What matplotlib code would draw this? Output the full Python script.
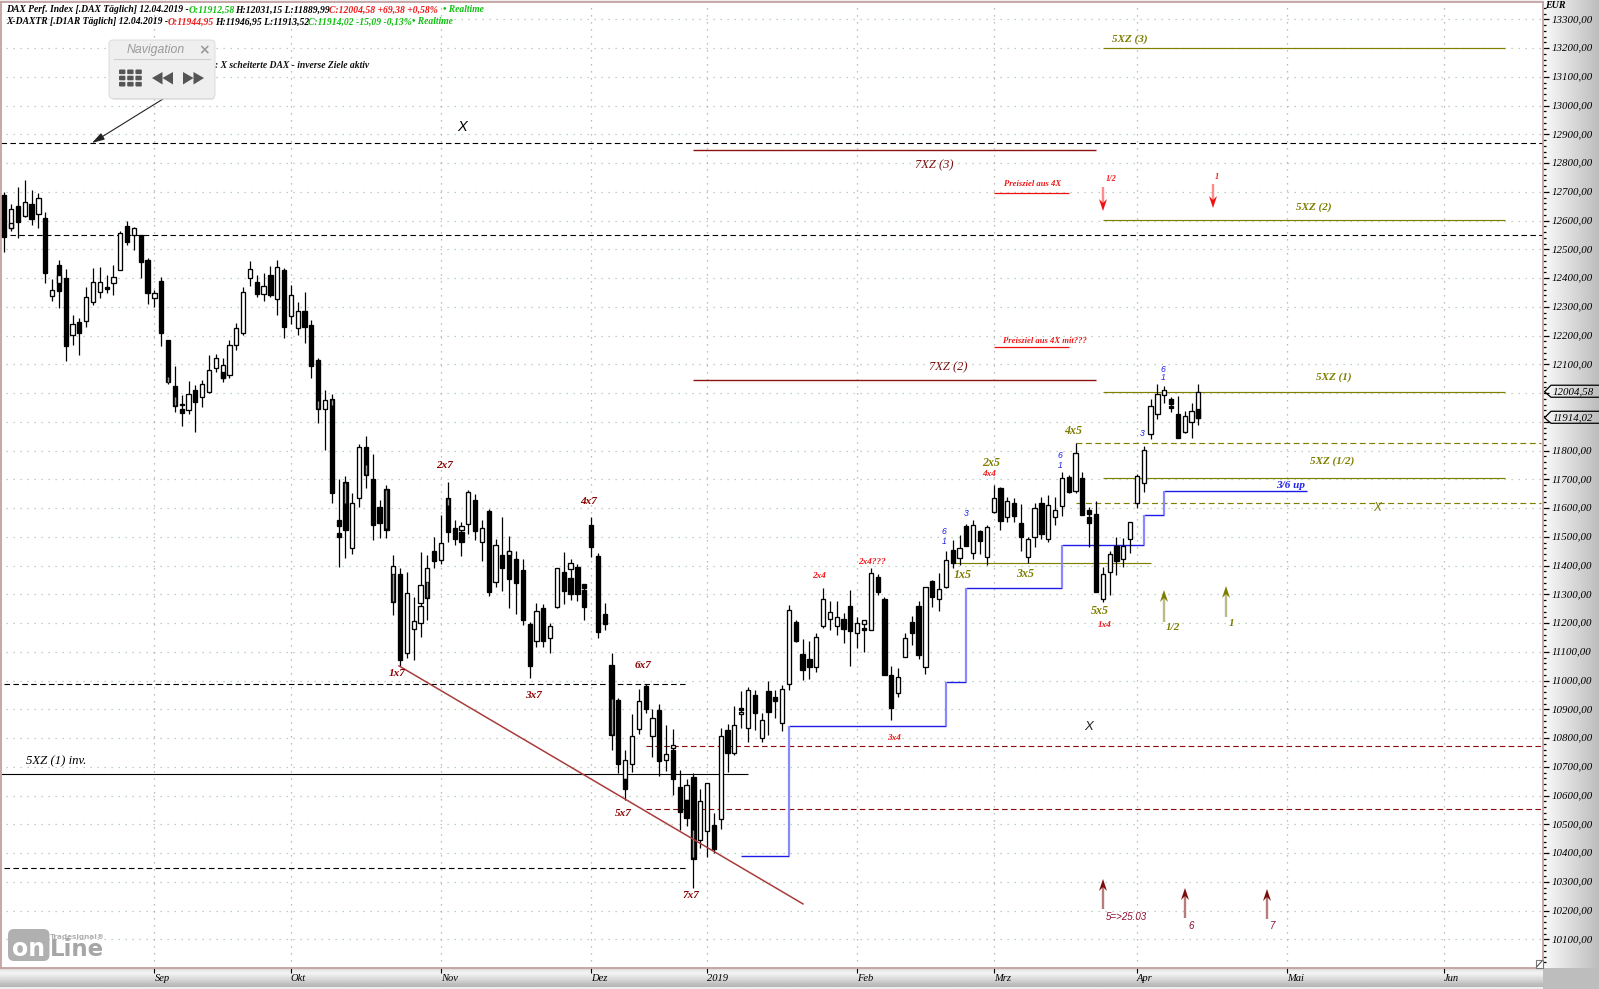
import numpy as np
import matplotlib
matplotlib.use("Agg")
from matplotlib import pyplot as plt
from matplotlib.patches import FancyBboxPatch, Polygon, Rectangle

plt.rcParams['font.family'] = ['Liberation Serif', 'DejaVu Sans']

# DAX daily candles
opens = [12689, 12573, 12651, 12616, 12658, 12622, 12608, 12339, 12444, 12399,
         12201, 12247, 12252, 12318, 12353, 12368, 12384, 12428, 12580, 12548,
         12548, 12463, 12330, 12388, 12183, 12024, 11944, 11940, 12012, 11986,
         12003, 12087, 12052, 12064, 12168, 12209, 12399, 12385, 12344, 12410,
         12326, 12427, 12268, 12228, 12286, 12236, 12114, 11946, 11978, 11560,
         11692, 11461, 11635, 11811, 11702, 11603, 11665, 11372, 11372, 11096,
         11180, 11270, 11343, 11450, 11421, 11636, 11529, 11518, 11543, 11629,
         11482, 11591, 11343, 11435, 11449, 11424, 11384, 11197, 11137, 11251,
         11147, 11255, 11379, 11356, 11394, 11315, 11541, 11433, 11232, 11054,
         10933, 10659, 10711, 10833, 10981, 10807, 10897, 10723, 10757, 10629,
         10584, 10664, 10445, 10477, 10497, 10520, 10829, 10748, 10906, 10835,
         10949, 10801, 10964, 10942, 10854, 10987, 11203, 11092, 11074, 11046,
         11191, 11213, 11191, 11213, 11260, 11167, 11198, 11176, 11360, 11284,
         11020, 10956, 11083, 11203, 11260, 11046, 11346, 11283, 11327, 11453,
         11425, 11538, 11442, 11520, 11431, 11585, 11669, 11570, 11617, 11547,
         11431, 11498, 11616, 11492, 11568, 11608, 11708, 11659, 11704, 11593,
         11579, 11283, 11376, 11468, 11422, 11491, 11616, 11686, 11856, 11926,
         11992, 11981, 11927, 11863, 11900, 11912.58]
highs = [12700, 12658, 12718, 12741, 12706, 12697, 12631, 12396, 12463, 12431,
         12272, 12260, 12370, 12434, 12437, 12411, 12446, 12562, 12600, 12579,
         12550, 12469, 12359, 12403, 12185, 12093, 11992, 12041, 12027, 12047,
         12131, 12137, 12123, 12183, 12243, 12368, 12460, 12411, 12417, 12442,
         12463, 12434, 12376, 12315, 12350, 12254, 12123, 12010, 11998, 11700,
         11711, 11654, 11822, 11850, 11789, 11627, 11679, 11436, 11393, 11376,
         11291, 11448, 11436, 11501, 11575, 11689, 11558, 11550, 11662, 11648,
         11558, 11598, 11494, 11569, 11502, 11450, 11423, 11202, 11269, 11266,
         11199, 11391, 11446, 11422, 11406, 11336, 11570, 11443, 11269, 11095,
         10939, 10757, 10885, 10972, 10989, 10902, 10920, 10844, 10833, 10688,
         10657, 10680, 10622, 10645, 10541, 10836, 10848, 10910, 10963, 10978,
         10966, 10887, 11000, 10967, 10985, 11263, 11211, 11144, 11138, 11165,
         11321, 11277, 11277, 11234, 11315, 11222, 11209, 11393, 11371, 11292,
         11051, 11043, 11167, 11225, 11277, 11327, 11350, 11373, 11451, 11489,
         11506, 11545, 11559, 11524, 11541, 11680, 11672, 11640, 11634, 11614,
         11500, 11616, 11637, 11645, 11637, 11726, 11715, 11825, 11725, 11602,
         11626, 11396, 11452, 11500, 11495, 11551, 11717, 11816, 11978, 12031,
         12024, 11987, 11990, 11937, 11964, 12031.15]
lows = [12492, 12562, 12538, 12614, 12585, 12575, 12382, 12320, 12295, 12110,
        12167, 12133, 12231, 12307, 12332, 12349, 12341, 12428, 12515, 12498,
        12399, 12310, 12301, 12162, 12033, 11934, 11884, 11926, 11865, 11952,
        12000, 12073, 12039, 12052, 12151, 12201, 12374, 12335, 12320, 12335,
        12272, 12190, 12239, 12202, 12175, 12052, 11896, 11801, 11618, 11395,
        11425, 11439, 11604, 11670, 11488, 11497, 11497, 11227, 11050, 11079,
        11071, 11152, 11210, 11393, 11407, 11482, 11471, 11432, 11509, 11488,
        11416, 11294, 11326, 11311, 11252, 11233, 11194, 11010, 11115, 11118,
        11095, 11251, 11265, 11280, 11275, 11209, 11431, 11149, 11176, 10759,
        10678, 10584, 10682, 10813, 10887, 10734, 10668, 10686, 10601, 10479,
        10494, 10280, 10416, 10387, 10400, 10485, 10682, 10740, 10835, 10786,
        10827, 10786, 10810, 10869, 10823, 10967, 11133, 11002, 11006, 11031,
        11184, 11176, 11159, 11132, 11052, 11112, 11101, 11176, 11298, 11020,
        10863, 10944, 11083, 11124, 11075, 11022, 11257, 11243, 11321, 11391,
        11402, 11468, 11423, 11440, 11401, 11584, 11524, 11553, 11553, 11452,
        11410, 11463, 11491, 11483, 11541, 11573, 11653, 11651, 11576, 11466,
        11309, 11274, 11298, 11367, 11396, 11443, 11601, 11657, 11839, 11910,
        11966, 11935, 11842, 11860, 11845, 11889.99]
closes = [12544, 12639, 12596, 12665, 12606, 12677, 12419, 12359, 12356, 12162,
          12239, 12210, 12333, 12385, 12385, 12361, 12403, 12556, 12527, 12573,
          12457, 12347, 12347, 12210, 12039, 11954, 11930, 11998, 11969, 12033,
          12081, 12123, 12097, 12168, 12225, 12353, 12431, 12345, 12374, 12341,
          12438, 12231, 12341, 12287, 12231, 12094, 11945, 11977, 11653, 11537,
          11523, 11616, 11814, 11714, 11540, 11548, 11523, 11274, 11073, 11306,
          11206, 11334, 11288, 11416, 11480, 11517, 11494, 11482, 11657, 11520,
          11532, 11308, 11473, 11393, 11354, 11341, 11209, 11049, 11243, 11139,
          11191, 11391, 11312, 11300, 11300, 11257, 11466, 11170, 11198, 10811,
          10710, 10725, 10806, 10929, 10900, 10868, 10720, 10746, 10658, 10543,
          10635, 10380, 10581, 10645, 10414, 10808, 10748, 10847, 10897, 10968,
          10887, 10864, 10891, 10930, 10970, 11245, 11136, 11038, 11046, 11151,
          11283, 11240, 11220, 11180, 11174, 11199, 11209, 11373, 11308, 11020,
          10906, 11014, 11147, 11167, 11090, 11324, 11290, 11318, 11418, 11410,
          11460, 11468, 11540, 11487, 11533, 11634, 11556, 11626, 11574, 11498,
          11491, 11599, 11510, 11611, 11592, 11703, 11657, 11790, 11576, 11579,
          11309, 11370, 11440, 11417, 11468, 11551, 11710, 11801, 11954, 11995,
          12009, 11963, 11845, 11919, 11936, 12004.58]

# second instrument (X-DAXTR) where its body shows next to the DAX body
over_idx = [1, 8, 26, 32, 49, 57, 61, 62, 67, 74, 83, 85, 91, 98, 100, 108, 126, 159, 171, 175]
over_open = [12573, 12382, 11960, 12074, 11514, 11372, 11201, 11343, 11525, 11436,
             11388, 11336, 10659, 10766, 10584, 10885, 11182, 11568, 11955, 11944.95]
over_close = [12592, 12410, 11961, 12052, 11500, 11398, 11259, 11393, 11539, 11449,
              11410, 11323, 10624, 10777, 10522, 10892, 11176, 11549, 11949, 11914.02]

# grey core seen inside some black bodies
stripe_idx = [24, 25, 46, 48, 50, 53, 56, 57, 62, 65, 89, 101]
stripe_top = [12056, 11986, 11972, 11977, 11686, 11749, 11662, 11369, 11343, 11633, 10937, 10479]
stripe_bot = [12039, 11957, 11949, 11957, 11616, 11718, 11529, 11277, 11291, 11610, 10813, 10387]

# axis labels
month_pos = [22, 42, 64, 86, 103, 125, 145, 166, 188, 211]
month_names = ['Sep', 'Okt', 'Nov', 'Dez', '2019', 'Feb', 'Mrz', 'Apr', 'Mai', 'Jun']
price_ticks = list(range(10100, 13400, 100))
hidden_ticks = [11900, 12000]  # covered by the last price tags

# horizontal levels: price, first bar, last bar
black_dash = [(12869, -0.5, 225.5), (12549, -0.5, 225.5), (10987, 0, 100), (10347, 0, 100)]
maroon_dash = [(10771, 94, 225.5), (10552, 94, 225.5)]
maroon_solid = [(12844, 101, 160), (12045, 101, 160)]
red_solid = [(12696, 145, 156), (12159, 145, 156)]
olive_solid = [(13200, 161, 220), (12601, 161, 220), (12003, 161, 220), (11703, 161, 220), (11408, 139, 168)]
olive_dash = [(11825, 157, 225.2), (11616, 157, 225.2)]
inv_level = [(10674, -0.5, 109)]

# stepped 3/6 line and falling trend line
blue_x = [108, 115, 138, 141, 155, 167, 170, 191]
blue_y = [10389, 10841, 10994, 11321, 11470, 11575, 11658]
trend_x = [57.85, 117.06]
trend_y = [11051, 10223]

last_dax = 12004.58
last_xdax = 11914.02

# pixel layout of the reference
W, H = 1599, 989
PX_L, PX_R, PX_T, PX_B = 1, 1543, 2, 968


def x_lim(px):
    return (px - 4.3) / 6.823


def y_lim(py):
    return 13300 - (py - 19.3) / 0.2875


fig = plt.figure(figsize=(W / 100, H / 100), dpi=100, facecolor='#eeeeee')

# gradient strips behind the axis labels
right = fig.add_axes([PX_R / W, (H - PX_B) / H, (W - PX_R) / W, PX_B / H], zorder=1)
right.imshow(np.linspace(0.98, 0.74, 256)[None, :], cmap='gray', vmin=0, vmax=1, aspect='auto')
right.axis('off')
bottom = fig.add_axes([0, 2 / H, PX_R / W, 19 / H], zorder=1)
bottom.imshow(np.array([0.86, 0.93, 0.95, 0.92, 0.88, 0.84, 0.8, 0.75, 0.72])[:, None], cmap='gray', vmin=0, vmax=1, aspect='auto')
bottom.axis('off')
corner = fig.add_axes([PX_R / W, 0, (W - PX_R) / W, (H - PX_B) / H], zorder=1)
corner.set_facecolor('#bdbdbd')
corner.set_xticks([])
corner.set_yticks([])
for s in corner.spines.values():
    s.set_visible(False)

ax = fig.add_axes([PX_L / W, (H - PX_B) / H, (PX_R - PX_L) / W, (PX_B - PX_T) / H], zorder=2)
ax.set_xlim(x_lim(PX_L), x_lim(PX_R))
ax.set_ylim(y_lim(PX_B), y_lim(PX_T))
ax.set_facecolor('white')

# dotted grid
ax.hlines(price_ticks, 0.2, x_lim(PX_R), color='#a9c4a9', lw=0.9, linestyle=(0, (1.0, 4.6)), zorder=1)
ax.vlines(month_pos, y_lim(PX_B), y_lim(PX_T), color='#a8a8a8', lw=0.9, linestyle=(0, (1.0, 4.6)), zorder=1)


def levels(rows, color, lw=0.8, dash=None):
    for price, a, b in rows:
        ax.hlines(price, a, b, color=color, lw=lw, linestyle=(0, dash) if dash else 'solid', zorder=2)


levels(black_dash, 'black', 0.8, (5.0, 3.0))
levels(maroon_dash, '#8b0a0a', 0.8, (5.0, 3.0))
levels(maroon_solid, '#8f1414', 1.0)
levels(red_solid, '#f01010', 0.9)
levels(olive_solid, '#808000', 0.85)
levels(olive_dash, '#808000', 0.85, (5.0, 3.0))
levels(inv_level, 'black', 0.8)

# stepped line, the risers are lighter
ax.hlines(blue_y, blue_x[:-1], blue_x[1:], color='#1c1ce6', lw=1.0, zorder=2)
ax.vlines(blue_x[1:-1], blue_y[:-1], blue_y[1:], color='#8888ff', lw=1.6, zorder=2)

# candles
body_w = 0.62
for i in range(len(opens)):
    ax.vlines(i, lows[i], highs[i], color='black', lw=0.9, zorder=3)
    up = closes[i] >= opens[i]
    ax.add_patch(Rectangle((i - body_w / 2, min(opens[i], closes[i])), body_w, abs(closes[i] - opens[i]),
                           facecolor='white' if up else 'black', edgecolor='black', lw=0.95, zorder=4))
for i, o, c in zip(over_idx, over_open, over_close):
    ax.add_patch(Rectangle((i - body_w / 2, min(o, c)), body_w, abs(c - o),
                           facecolor='white' if c >= o else 'black', edgecolor='black', lw=0.95, zorder=4.5))
ax.vlines(stripe_idx, stripe_bot, stripe_top, color='#9a9a9a', lw=1.0, zorder=5)

ax.plot(trend_x, trend_y, color='#a83c3c', lw=1.1, zorder=6)

# axis furniture
ax.xaxis.tick_bottom()
ax.yaxis.tick_right()
ax.set_xticks(month_pos)
ax.set_xticklabels(month_names, fontsize=7.6, style='italic', ha='left')
ax.set_yticks(price_ticks)
ax.set_yticklabels(['' if p in hidden_ticks else '%d,00' % p for p in price_ticks],
                   fontsize=7.8, style='italic', va='center')
ax.set_yticks(np.arange(10020, 13360, 20), minor=True)
ax.tick_params(axis='y', which='major', length=4.4, width=0.9, pad=1.8, colors='black')
ax.tick_params(axis='y', which='minor', length=2.4, width=0.9, colors='black')
ax.tick_params(axis='x', which='major', length=3.6, width=0.8, pad=0.4, colors='black')
for s in ['left', 'top', 'bottom', 'right']:
    ax.spines[s].set_color('#c4a0a0')
    ax.spines[s].set_linewidth(1.3)

# everything below is annotation, placed in reference pixels
ov = fig.add_axes([0, 0, 1, 1], zorder=3)
ov.set_xlim(0, W)
ov.set_ylim(H, 0)
ov.axis('off')
ov.patch.set_alpha(0)

HD = dict(fontsize=6.9, style='italic', va='center', ha='left', weight='bold')
GREEN = '#10c010'
RED = '#f01818'
for x, y, s, c in [
    (6, 10, 'DAX Perf. Index [.DAX Täglich] 12.04.2019 -', 'black'),
    (188.7, 10, 'O:11912,58', GREEN),
    (234.7, 10, 'H:12031,15 L:11889,99', 'black'),
    (329, 10, 'C:12004,58 +69,38 +0,58%', RED),
    (443, 10, '• Realtime', GREEN),
    (6, 22, 'X-DAXTR [.D1AR Täglich] 12.04.2019 -', 'black'),
    (167.7, 22, 'O:11944,95', RED),
    (215, 22, 'H:11946,95 L:11913,52', 'black'),
    (308, 22, 'C:11914,02 -15,09 -0,13%', GREEN),
    (412, 22, '• Realtime', GREEN),
]:
    ov.text(x, y, s, color=c, **HD)

ov.text(215, 66, ': X scheiterte DAX - inverse Ziele aktiv', fontsize=6.9, style='italic', weight='bold',
        va='center', ha='left', color='#111111')

MAROON = '#7a0f0f'
DKRED = '#8b0000'
OLIVE = '#7d7d00'
BLUE = '#2222ee'
labels = [
    ('7XZ (3)', 934, 165, MAROON, 9), ('7XZ (2)', 948, 367, MAROON, 9),
    ('5XZ (3)', 1130, 39, OLIVE, 8), ('5XZ (2)', 1314, 207, OLIVE, 8),
    ('5XZ (1)', 1334, 377, OLIVE, 8), ('5XZ (1/2)', 1332, 461, OLIVE, 8),
    ('Preisziel aus 4X', 1032.5, 184, RED, 6.2), ('Preisziel aus 4X mit???', 1045, 341, RED, 6.2),
    ('1/2', 1111.5, 179, RED, 6), ('1', 1217, 177, RED, 6),
    ('3/6 up', 1291, 485, BLUE, 8),
    ('4x5', 1073, 431, OLIVE, 8.6), ('2x5', 991, 463, OLIVE, 8.6), ('1x5', 963, 575, OLIVE, 8.6),
    ('3x5', 1025, 574, OLIVE, 8.6), ('5x5', 1100, 611, OLIVE, 8.6),
    ('4x4', 989, 474, RED, 6.6), ('1x4', 1105, 625, RED, 6.6), ('2x4', 819, 576, RED, 6.6),
    ('2x4???', 872, 562, RED, 6.6), ('3x4', 894, 738, RED, 6.6),
    ('2x7', 445, 465, DKRED, 8), ('4x7', 589, 501, DKRED, 8), ('6x7', 643, 665, DKRED, 8),
    ('3x7', 534, 696, DKRED, 8), ('1x7', 397, 673, DKRED, 8), ('5x7', 623, 813, DKRED, 8),
    ('7x7', 691, 896, DKRED, 8),
    ('5XZ (1) inv.', 56, 761, 'black', 9.2),
    ('1/2', 1173, 628, OLIVE, 8), ('1', 1232, 623, OLIVE, 8),
]
for s, x, y, c, fs in labels:
    ov.text(x, y, s, color=c, fontsize=fs, style='italic', weight='bold' if fs < 8.7 else 'normal',
            ha='center', va='center')

for s, x, y in [('6', 944, 532), ('1', 944, 541), ('3', 966, 514), ('6', 1060, 456), ('1', 1060, 465),
                ('6', 1163, 369), ('1', 1163, 378), ('3', 1142, 433)]:
    ov.text(x, y, s, color=BLUE, fontsize=6.2, style='italic', ha='center', va='center', family='Liberation Sans')

for s, x, y, c, fs in [('X', 462, 127, 'black', 10.5), ('X', 1089, 727, '#222222', 9.5), ('X', 1377, 508, OLIVE, 8.5)]:
    ov.text(x, y, s, color=c, fontsize=fs, style='italic', ha='center', va='center', family='Liberation Sans')
for s, x, y in [('5=>25.03', 1126, 917), ('6', 1191, 926), ('7', 1273, 926)]:
    ov.text(x, y, s, color='#8b1030', fontsize=7, style='italic', ha='center', va='center', family='Liberation Sans')


def signal_arrow(x, y0, y1, shaft, head):
    d = 1 if y0 > y1 else -1
    ov.plot([x, x], [y0, y1 + d * 6], color=shaft, lw=1.7, solid_capstyle='butt', zorder=5)
    ov.add_patch(Polygon([(x, y1), (x - 4, y1 + d * 12), (x, y1 + d * 8), (x + 4, y1 + d * 12)],
                         closed=True, facecolor=head, edgecolor='none', zorder=6))


signal_arrow(1103, 187, 211, '#ff8c8c', '#f01010')
signal_arrow(1213, 184, 208, '#ff8c8c', '#f01010')
signal_arrow(1164, 622, 590, '#bcbc88', '#7d7d00')
signal_arrow(1226, 617, 586, '#bcbc88', '#7d7d00')
signal_arrow(1103, 909, 879, '#b87c7c', '#7a0c0c')
signal_arrow(1185, 918, 888, '#b87c7c', '#7a0c0c')
signal_arrow(1267, 919, 889, '#b87c7c', '#7a0c0c')

# pointer from the navigation box
ov.annotate('', xy=(92, 143), xytext=(163, 99),
            arrowprops=dict(arrowstyle='-|>,head_length=0.75,head_width=0.22', color='#222222', lw=0.8,
                            shrinkA=0, shrinkB=0))

# navigation box
ov.add_patch(FancyBboxPatch((111, 42), 104, 58, boxstyle='round,pad=0,rounding_size=4', facecolor='#d4d4d4',
                            edgecolor='none', alpha=0.6, zorder=7))
ov.add_patch(FancyBboxPatch((109, 40), 106, 58.5, boxstyle='round,pad=0,rounding_size=4', facecolor='#efefef',
                            edgecolor='#dcdcdc', lw=0.7, zorder=8))
ov.plot([114, 210], [58.7, 58.7], color='#cfcfcf', lw=0.8, zorder=9)
ov.text(155.5, 49.5, 'Navigation', color='#9a9a9a', fontsize=8.8, style='italic', ha='center', va='center',
        family='Liberation Sans', zorder=9)
ov.text(204, 50, '×', color='#9a9a9a', fontsize=10, weight='bold', ha='center', va='center',
        family='DejaVu Sans', zorder=9)
for row in range(3):
    for col in range(3):
        ov.add_patch(FancyBboxPatch((119 + col * 8.2, 69.5 + row * 6.2), 6.4, 4.6,
                                    boxstyle='round,pad=0,rounding_size=1', facecolor='#555555',
                                    edgecolor='none', zorder=9))
for pts in [[(152, 78), (162.5, 72), (162.5, 84.5)], [(162.5, 78), (173, 72), (173, 84.5)],
            [(204, 78), (193.5, 72), (193.5, 84.5)], [(193.5, 78), (183, 72), (183, 84.5)]]:
    ov.add_patch(Polygon(pts, closed=True, facecolor='#555555', edgecolor='none', zorder=9))

# logo
ov.add_patch(FancyBboxPatch((8, 929), 41.5, 32, boxstyle='round,pad=0,rounding_size=6', facecolor='#b0b0b0',
                            edgecolor='none', zorder=1))
ov.text(28.5, 949.5, 'on', color='white', fontsize=17, weight='bold', ha='center', va='center',
        family='DejaVu Sans', zorder=2)
ov.text(50, 949.5, 'Line', color='#a6a6a6', fontsize=16.5, weight='bold', ha='left', va='center',
        family='DejaVu Sans', zorder=2)
ov.text(50, 937.5, 'Tradesignal®', color='#b0b0b0', fontsize=5.2, weight='bold', ha='left', va='center',
        family='DejaVu Sans', zorder=2)

# chart resize handle
ov.add_patch(Rectangle((1535.5, 960), 7, 7.5, facecolor='white', edgecolor='#777777', lw=0.8, zorder=3))
ov.plot([1537, 1542], [966.5, 961], color='#555555', lw=0.8, zorder=4)

# last price tags on the right axis
ov.text(1545, 6, 'EUR', fontsize=7.2, style='italic', weight='bold', ha='left', va='center')
for p in [last_dax, last_xdax]:
    y = 19.3 + (13300 - p) * 0.2875
    ov.plot([1599, 1551, 1544.5, 1551, 1599], [y - 6.5, y - 6.5, y, y + 5.5, y + 5.5], color='black', lw=0.9, zorder=6)
    ov.text(1553, y, ('%.2f' % p).replace('.', ','), fontsize=7.8, style='italic', va='center', ha='left', zorder=7)

fig.savefig('out.png', dpi=100, facecolor=fig.get_facecolor())
